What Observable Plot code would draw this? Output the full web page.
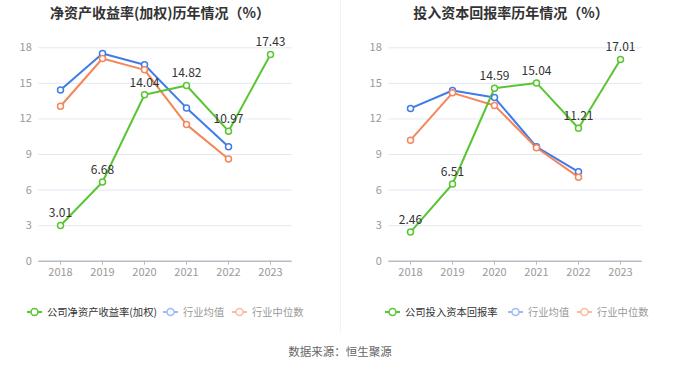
<!DOCTYPE html>
<html><head><meta charset="utf-8">
<script src="https://cdn.jsdelivr.net/npm/d3@7"></script>
<script src="https://cdn.jsdelivr.net/npm/@observablehq/plot@0.6"></script>
<style>
body{margin:0;background:#fff;font-family:"Noto Sans CJK SC","Noto Sans",sans-serif;}
#wrap{position:relative;width:680px;height:367px;overflow:hidden;background:#fff;}
.title{position:absolute;top:2px;font-size:14px;font-weight:bold;color:#333;text-align:center;width:340px;line-height:20px;}
.chart{position:absolute;top:0;}
.legend{position:absolute;top:304px;height:16px;font-size:10.3px;line-height:16px;white-space:nowrap;}
.legend span.item{position:absolute;top:0;display:inline-flex;align-items:center;}
.legend svg{margin-right:5px;}
#divider{position:absolute;left:340px;top:0;width:1px;height:332px;background:#f2f2f2;}
#caption{position:absolute;top:342px;left:0;width:680px;text-align:center;font-size:11.5px;color:#666;line-height:18px;}
</style></head>
<body>
<div id="wrap">
  <div id="divider"></div>
  <div class="title" style="left:-10px">净资产收益率(加权)历年情况（%）</div>
  <div class="title" style="left:341px">投入资本回报率历年情况（%）</div>
  <div id="c1" class="chart" style="left:0"></div>
  <div id="c2" class="chart" style="left:340px"></div>
  <div id="l1" class="legend" style="left:0;width:340px"></div>
  <div id="l2" class="legend" style="left:340px;width:340px"></div>
  <div id="caption">数据来源：恒生聚源</div>
</div>
<script>
const years = ["2018","2019","2020","2021","2022","2023"];
const roe = [3.01, 6.68, 14.04, 14.82, 10.97, 17.43];
const roeMean = [14.45, 17.52, 16.57, 12.93, 9.66];
const roeMedian = [13.07, 17.10, 16.14, 11.52, 8.62];
const roic = [2.46, 6.51, 14.59, 15.04, 11.21, 17.01];
const roicMean = [12.89, 14.40, 13.80, 9.65, 7.54];
const roicMedian = [10.21, 14.20, 13.14, 9.57, 7.09];
const yTicks = [0, 3, 6, 9, 12, 15, 18];
const names1 = ["公司净资产收益率(加权)", "行业均值", "行业中位数"];
const names2 = ["公司投入资本回报率", "行业均值", "行业中位数"];

const GREEN = "#5ac532", BLUE = "#3f7be9", ORANGE = "#f5855b";

function rows(vals) { return vals.map((v, i) => ({year: years[i], v})); }

function chart(company, mean, median, ml, mr) {
  const c = rows(company), m = rows(mean), d = rows(median);
  const lineOpts = (col) => ({x: "year", y: "v", stroke: col, strokeWidth: 2});
  const dotOpts = (col) => ({x: "year", y: "v", r: 3, fill: "#fff", stroke: col, strokeWidth: 1.5});
  return Plot.plot({
    width: 340, height: 290,
    marginTop: 47.3, marginBottom: 29.3, marginLeft: ml, marginRight: mr,
    style: {fontFamily: '"Noto Sans CJK SC","Noto Sans",sans-serif', background: "transparent"},
    x: {type: "point", domain: years, padding: 0.5},
    y: {domain: [0, 18]},
    marks: [
      Plot.gridY(yTicks.filter(t => t > 0), {stroke: "#e3e8f3", strokeOpacity: 1, strokeWidth: 1}),
      Plot.ruleY([0], {stroke: "#b8bcc6", strokeWidth: 1.5}),
      Plot.axisY(yTicks, {tickSize: 0, tickPadding: 7, fill: "#999", fontSize: 11, label: null}),
      Plot.axisX(years, {tickSize: 4, stroke: "#b8bcc6", tickPadding: 3, fill: "#999", fontSize: 11, label: null}),
      Plot.line(m, lineOpts(BLUE)),
      Plot.line(d, lineOpts(ORANGE)),
      Plot.line(c, lineOpts(GREEN)),
      Plot.dot(m, dotOpts(BLUE)),
      Plot.dot(d, dotOpts(ORANGE)),
      Plot.dot(c, dotOpts(GREEN)),
      Plot.text(c, {x: "year", y: "v", text: r => r.v.toFixed(2), dy: -12, fill: "#333", fontSize: 12})
    ]
  });
}

document.getElementById("c1").appendChild(chart(roe, roeMean, roeMedian, 38.3, 48.3));
document.getElementById("c2").appendChild(chart(roic, roicMean, roicMedian, 48.3, 38.3));

function marker(col) {
  return `<svg width="15" height="10"><line x1="0" y1="5" x2="15" y2="5" stroke="${col}" stroke-width="2"/><circle cx="7.5" cy="5" r="3.5" fill="#fff" stroke="${col}" stroke-width="1.5"/></svg>`;
}
function legend(id, names, xs) {
  const cols = [GREEN, "#9dbaf3", "#f8bca3"];
  const txt = ["#333", "#999", "#999"];
  document.getElementById(id).innerHTML = names.map((n, i) =>
    `<span class="item" style="left:${xs[i]}px;color:${txt[i]}">${marker(cols[i])}${n}</span>`).join("");
}
legend("l1", names1, [27, 163, 232]);
legend("l2", names2, [45, 168, 237]);
</script>
</body></html>
